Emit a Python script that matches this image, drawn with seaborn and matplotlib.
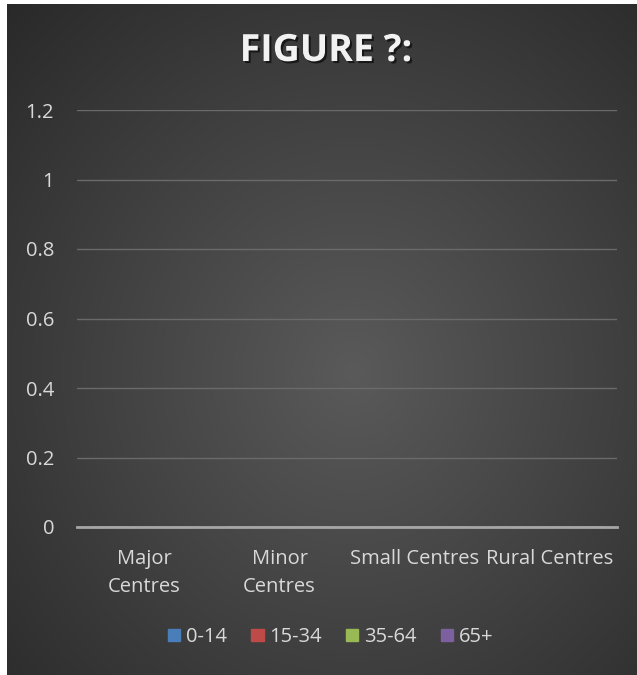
import numpy as np
import pandas as pd
import matplotlib
matplotlib.use("Agg")
import matplotlib.pyplot as plt
import matplotlib.patheffects as pe
from matplotlib.patches import Patch
import seaborn as sns

categories = ["Major\nCentres", "Minor\nCentres", "Small Centres", "Rural Centres"]
series = ["0-14", "15-34", "35-64", "65+"]
values_0_14 = [0, 0, 0, 0]
values_15_34 = [0, 0, 0, 0]
values_35_64 = [0, 0, 0, 0]
values_65 = [0, 0, 0, 0]
yticks = [0, 0.2, 0.4, 0.6, 0.8, 1, 1.2]
ytick_labels = ["0", "0.2", "0.4", "0.6", "0.8", "1", "1.2"]
colors = ["#4a7ebb", "#be4b48", "#98b954", "#7d60a0"]

rows = []
for s, vals in zip(series, [values_0_14, values_15_34, values_35_64, values_65]):
    for c, v in zip(categories, vals):
        rows.append({"Category": c, "Series": s, "Value": v})
df = pd.DataFrame(rows)

sns.set_theme(style="white")
plt.rcParams['font.family'] = ['Open Sans', 'DejaVu Sans']

W, H = 637, 675
fig = plt.figure(figsize=(W / 100, H / 100), dpi=100, facecolor="white")

# Dark radial-gradient background panel
bg = fig.add_axes([7 / W, 0, (W - 7) / W, (H - 4) / H], zorder=0)
ny, nx = 300, 300
yy, xx = np.mgrid[0:1:ny * 1j, 0:1:nx * 1j]
cx, cy = 0.55, 0.55
r = np.sqrt(((xx - cx) / 0.8) ** 2 + ((yy - cy) / 0.8) ** 2)
r = np.clip(r, 0, 1)
center = np.array([90, 90, 90]) / 255
edge = np.array([40, 40, 40]) / 255
img = center[None, None, :] * (1 - r[..., None]) + edge[None, None, :] * r[..., None]
bg.imshow(img, aspect="auto", extent=[0, 1, 0, 1], origin="upper")
bg.set_axis_off()

ax = fig.add_axes([77 / W, 1 - 527 / H, (617 - 77) / W, (527 - 110) / H], zorder=1)
ax.set_facecolor("none")
sns.barplot(data=df, x="Category", y="Value", hue="Series", palette=colors,
            ax=ax, legend=False, errorbar=None)

ax.set_ylim(0, 1.2)
ax.set_yticks(yticks)
ax.set_yticklabels(ytick_labels)
ax.grid(axis="y", color="#6a6a6a", linewidth=1)
ax.set_axisbelow(True)
for sp in ["top", "right", "left"]:
    ax.spines[sp].set_visible(False)
ax.spines["bottom"].set_color("#a6a6a6")
ax.spines["bottom"].set_linewidth(2)
ax.tick_params(axis="both", length=0, colors="#d9d9d9", labelsize=14.5)
ax.tick_params(axis="y", pad=16.5)
ax.tick_params(axis="x", pad=16)
ax.set_xlabel("")
ax.set_ylabel("")
for lab in ax.get_xticklabels():
    lab.set_linespacing(1.5)

title = fig.text(326 / W, 1 - 51 / H, "FIGURE ?:", ha="center", va="center",
                 fontsize=27, fontweight="bold", color="#f2f2f2")
title.set_path_effects([pe.withSimplePatchShadow(offset=(1.5, -1.5), shadow_rgbFace="black", alpha=0.6)])

handles = [Patch(facecolor=c, edgecolor=c, label=s) for c, s in zip(colors, series)]
leg = fig.legend(handles=handles, loc="center", bbox_to_anchor=(331 / W, 1 - 637 / H),
                 ncol=4, frameon=False, fontsize=14.5, handlelength=0.6,
                 handleheight=0.6, handletextpad=0.3, columnspacing=1.2,
                 labelcolor="#d9d9d9")

fig.savefig("out.png", dpi=100, facecolor="white")
